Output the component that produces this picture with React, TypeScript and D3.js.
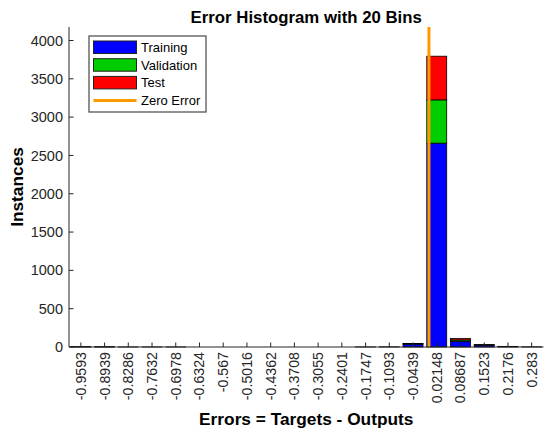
import React from "react";
import * as d3 from "d3";

const binLabels = ["-0.9593","-0.8939","-0.8286","-0.7632","-0.6978","-0.6324","-0.567","-0.5016","-0.4362","-0.3708","-0.3055","-0.2401","-0.1747","-0.1093","-0.0439","0.02148","0.08687","0.1523","0.2176","0.283"];
const training = [3,2,1,1,1,0,0,0,0,0,0,0,1,2,38,2660,75,25,6,2];
const validation = [0,0,0,0,0,0,0,0,0,0,0,0,0,0,4,565,17,3,1,0];
const test = [1,1,0,0,0,0,0,0,0,0,0,0,0,0,3,570,18,3,1,0];
const yTicks = [0,500,1000,1500,2000,2500,3000,3500,4000];
const seriesNames = ["Training","Validation","Test"];
const seriesColors = ["#0000FF","#00CC00","#FF0000"];
const zeroColor = "#FF9900";

export default function App() {
  const W = 550, H = 433;
  const left = 69, right = 543.5, top = 27, bottom = 347;
  const centers = binLabels.map(Number);
  const bw = (centers[centers.length - 1] - centers[0]) / (centers.length - 1);
  const x = d3.scaleLinear().domain([centers[0] - bw / 2, centers[centers.length - 1] + bw / 2]).range([left, right]);
  const y = d3.scaleLinear().domain([0, 4176]).range([bottom, top]);
  const series = [training, validation, test];
  const axisColor = "#262626";
  const font = "Arial, 'Liberation Sans', sans-serif";
  const barHalf = bw * 0.42;

  const rects: any[] = [];
  binLabels.forEach((_, i) => {
    let base = 0;
    series.forEach((s, k) => {
      const v = s[i];
      if (v > 0) {
        rects.push(
          <rect key={`${i}-${k}`} x={x(centers[i] - barHalf)} y={y(base + v)} width={x(centers[i] + barHalf) - x(centers[i] - barHalf)} height={y(base) - y(base + v)} fill={seriesColors[k]} stroke="#000" strokeWidth={0.8} />
        );
      }
      base += v;
    });
  });

  const legendX = 89, legendY = 36, legendW = 117, legendH = 76;
  const rowH = 17.7;

  return (
    <svg width={W} height={H} style={{ position: "absolute", left: 0, top: 0, background: "#fff" }} fontFamily={font}>
      <rect x={0} y={0} width={W} height={H} fill="#fff" />
      {rects}
      <line x1={x(0)} x2={x(0)} y1={top} y2={bottom} stroke={zeroColor} strokeWidth={3} />
      <line x1={left} x2={left} y1={top} y2={bottom} stroke={axisColor} strokeWidth={1} />
      <line x1={left} x2={right} y1={bottom} y2={bottom} stroke={axisColor} strokeWidth={1} />
      {yTicks.map((t) => (
        <g key={t}>
          <line x1={left} x2={left + 4.5} y1={y(t)} y2={y(t)} stroke={axisColor} />
          <text x={left - 6} y={y(t)} dy="0.35em" textAnchor="end" fontSize={14.5} fill={axisColor}>{t}</text>
        </g>
      ))}
      {binLabels.map((l, i) => (
        <g key={l}>
          <line x1={x(centers[i])} x2={x(centers[i])} y1={bottom} y2={bottom - 4.5} stroke={axisColor} />
          <text transform={`translate(${x(centers[i])},${bottom + 5}) rotate(-90)`} dy="0.35em" textAnchor="end" fontSize={14.2} fill={axisColor}>{l}</text>
        </g>
      ))}
      <text x={(left + right) / 2} y={23} textAnchor="middle" fontSize={16.8} fontWeight="bold" fill="#000">Error Histogram with 20 Bins</text>
      <text x={(left + right) / 2} y={425} textAnchor="middle" fontSize={17.3} fontWeight="bold" fill="#000">Errors = Targets - Outputs</text>
      <text transform={`translate(23,${(top + bottom) / 2}) rotate(-90)`} textAnchor="middle" fontSize={17.3} fontWeight="bold" fill="#000">Instances</text>
      <rect x={legendX} y={legendY} width={legendW} height={legendH} fill="#fff" stroke="#555" strokeWidth={1.3} />
      {seriesNames.map((n, k) => (
        <g key={n}>
          <rect x={93.5} y={legendY + 5 + k * rowH} width={43} height={12.5} fill={seriesColors[k]} stroke="#222" strokeWidth={1} />
          <text x={141} y={legendY + 11.3 + k * rowH} dy="0.35em" fontSize={13} fill="#000">{n}</text>
        </g>
      ))}
      <line x1={93.5} x2={136.5} y1={legendY + 11.3 + 3 * rowH} y2={legendY + 11.3 + 3 * rowH} stroke={zeroColor} strokeWidth={3} />
      <text x={141} y={legendY + 11.3 + 3 * rowH} dy="0.35em" fontSize={13} fill="#000">Zero Error</text>
    </svg>
  );
}
